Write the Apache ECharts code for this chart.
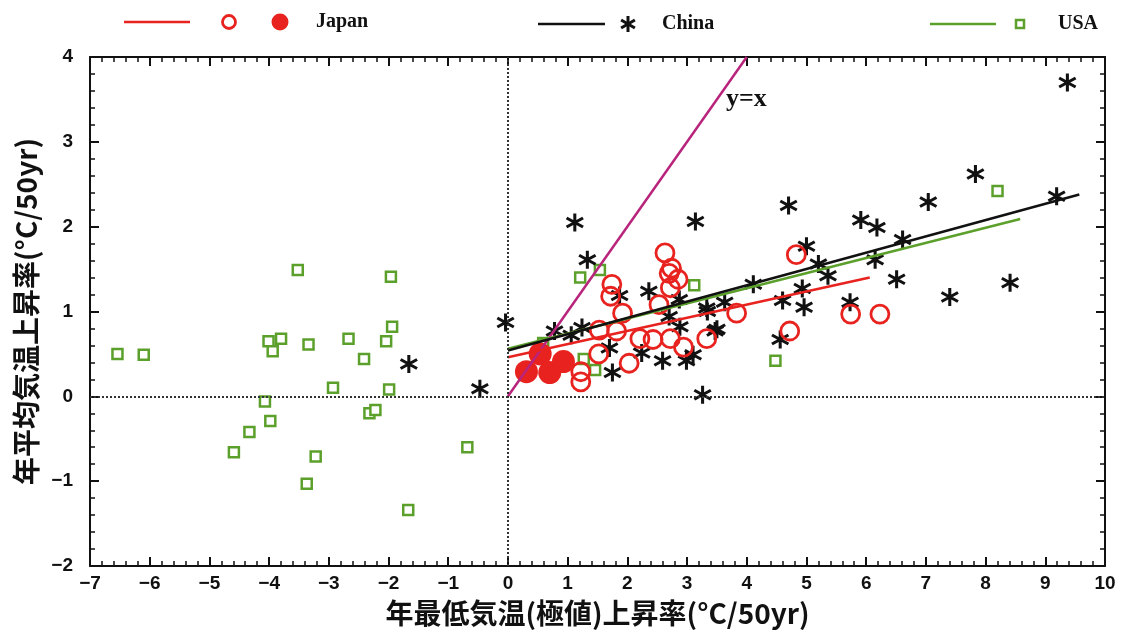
<!DOCTYPE html>
<html>
<head>
<meta charset="utf-8">
<script src="https://cdn.jsdelivr.net/npm/echarts@6/dist/echarts.min.js"></script>
<style>
  html, body { margin: 0; padding: 0; background: #fff; }
  #main { width: 1122px; height: 632px; }
</style>
</head>
<body>
<div id="main"></div>
<script>
// 数据（从图上读出来的）
var usaPoints = [
    [-6.54, 0.50], [-6.10, 0.49], [-3.52, 1.49], [-1.96, 1.41], [-1.94, 0.82],
    [-4.01, 0.65], [-3.80, 0.68], [-3.94, 0.53], [-3.34, 0.61], [-2.67, 0.68],
    [-2.04, 0.65], [-2.41, 0.44], [-2.93, 0.10], [-1.99, 0.08], [-4.07, -0.06],
    [-3.98, -0.29], [-4.33, -0.42], [-4.59, -0.66], [-3.22, -0.71], [-3.37, -1.03],
    [-1.67, -1.34], [-2.32, -0.20], [-2.22, -0.16], [-0.68, -0.60],
    [1.21, 1.40], [1.54, 1.49], [3.12, 1.31], [0.59, 0.63], [1.27, 0.44],
    [1.46, 0.31], [4.48, 0.42], [8.20, 2.42]
];
var chinaPoints = [
    [-1.66, 0.38], [-0.47, 0.09], [-0.04, 0.87], [1.12, 2.05], [3.14, 2.06],
    [1.33, 1.61], [2.36, 1.24], [1.87, 1.19], [2.87, 1.14], [0.78, 0.77],
    [1.06, 0.72], [1.24, 0.81], [2.70, 0.94], [2.88, 0.82], [1.70, 0.57],
    [2.24, 0.51], [2.59, 0.42], [3.10, 0.49], [2.99, 0.42], [1.75, 0.28],
    [3.26, 0.02], [3.33, 1.04], [3.47, 0.77], [4.11, 1.32], [4.56, 0.67],
    [9.37, 3.70], [7.83, 2.62], [9.19, 2.36], [7.04, 2.29], [4.70, 2.25],
    [5.91, 2.08], [6.18, 1.99], [6.61, 1.85], [5.00, 1.77], [6.15, 1.61],
    [5.20, 1.56], [5.36, 1.42], [6.51, 1.38], [4.93, 1.27], [8.41, 1.34],
    [7.40, 1.17], [4.60, 1.13], [4.96, 1.05], [5.73, 1.11], [3.34, 1.00],
    [3.63, 1.11], [3.50, 0.79]
];
var japanOpen = [
    [4.83, 1.67], [3.83, 0.98], [3.33, 0.68], [4.72, 0.77], [5.74, 0.97],
    [6.23, 0.97], [2.63, 1.69], [2.74, 1.51], [2.70, 1.45], [2.85, 1.38],
    [2.72, 1.28], [1.74, 1.32], [1.72, 1.18], [1.92, 0.98], [2.53, 1.08],
    [1.53, 0.78], [1.82, 0.77], [2.21, 0.68], [2.43, 0.67], [2.72, 0.68],
    [2.94, 0.58], [1.52, 0.50], [2.03, 0.39], [1.22, 0.29], [1.22, 0.17]
];
var japanFilled = [[0.31, 0.29], [0.54, 0.50], [0.70, 0.28], [0.93, 0.41]];

// 回归线的两个端点
var japanFit = [[0, 0.46], [6.06, 1.40]];
var chinaFit = [[0, 0.54], [9.57, 2.38]];
var usaFit = [[0, 0.56], [8.58, 2.09]];
var yxLine = [[0, 0], [4, 4]];

var xTicks = { min: -7, max: 10, step: 1 };
var yTicks = { min: -2, max: 4, step: 1 };

var RED = '#e8231f', GREEN = '#5ca02c', BLACK = '#111', MAGENTA = '#b8247c';

// 星号（6 个角）
var starPath = 'path://M8.4 0 L11.6 0 L11.6 20 L8.4 20 Z ' +
    'M0.54 6.39 L2.14 3.61 L19.46 13.61 L17.86 16.39 Z ' +
    'M17.86 3.61 L19.46 6.39 L2.14 16.39 L0.54 13.61 Z';

function minus(v) { return String(v).replace('-', '\u2212'); }

function makeAxis(pos, showLabel, extra) {
    var a = {
        type: 'value',
        position: pos,
        axisLine: { onZero: false, lineStyle: { color: BLACK, width: 2 } },
        axisTick: { inside: true, length: 9, lineStyle: { color: BLACK, width: 2 } },
        minorTick: { show: true, splitNumber: 5, length: 5, lineStyle: { color: BLACK, width: 1.5 } },
        splitLine: { show: false },
        axisLabel: {
            show: showLabel, color: BLACK, fontSize: 19, fontWeight: 'bold',
            fontFamily: 'Liberation Sans', formatter: minus
        }
    };
    for (var k in extra) a[k] = extra[k];
    return a;
}

var nameStyle = { fontSize: 28, fontWeight: 'bold', fontFamily: 'Noto Sans CJK JP', color: BLACK };
var legendFont = 'bold 20px "Liberation Serif"';

var option = {
    backgroundColor: '#fff',
    animation: false,
    grid: { left: 90, right: 17, top: 57, bottom: 65 },
    xAxis: [
        makeAxis('bottom', true, {
            min: xTicks.min, max: xTicks.max, interval: xTicks.step,
            name: '年最低気温(極値)上昇率(°C/50yr)', nameLocation: 'middle', nameGap: 33,
            nameTextStyle: nameStyle
        }),
        makeAxis('top', false, { min: xTicks.min, max: xTicks.max, interval: xTicks.step })
    ],
    yAxis: [
        makeAxis('left', true, {
            min: yTicks.min, max: yTicks.max, interval: yTicks.step,
            name: '年平均気温上昇率(°C/50yr)', nameLocation: 'middle', nameGap: 47,
            nameTextStyle: nameStyle,
            axisLabel: {
                color: BLACK, fontSize: 19, fontWeight: 'bold', margin: 17,
                fontFamily: 'Liberation Sans', formatter: minus
            }
        }),
        makeAxis('right', false, { min: yTicks.min, max: yTicks.max, interval: yTicks.step })
    ],
    series: [
        {
            name: 'y=x', type: 'line', data: yxLine, symbol: 'none',
            lineStyle: { color: MAGENTA, width: 2.5 },
            markLine: {
                silent: true, symbol: 'none', label: { show: false },
                lineStyle: { type: 'dotted', color: '#333', width: 2 },
                data: [{ xAxis: 0 }, { yAxis: 0 }]
            }
        },
        { name: 'USA fit', type: 'line', data: usaFit, symbol: 'none', lineStyle: { color: GREEN, width: 2.5 } },
        { name: 'China fit', type: 'line', data: chinaFit, symbol: 'none', lineStyle: { color: BLACK, width: 2.5 } },
        { name: 'Japan fit', type: 'line', data: japanFit, symbol: 'none', lineStyle: { color: RED, width: 2.5 } },
        {
            name: 'USA', type: 'scatter', data: usaPoints, symbol: 'rect', symbolSize: 10,
            itemStyle: { color: '#fff', borderColor: GREEN, borderWidth: 2.5, opacity: 1 }
        },
        {
            name: 'China', type: 'scatter', data: chinaPoints, symbol: starPath, symbolSize: 18,
            itemStyle: { color: BLACK, opacity: 1 }
        },
        {
            name: 'Japan', type: 'scatter', data: japanOpen, symbol: 'circle', symbolSize: 18,
            itemStyle: { color: 'rgba(255,255,255,0)', borderColor: RED, borderWidth: 2.8, opacity: 1 }
        },
        {
            name: 'Japan(filled)', type: 'scatter', data: japanFilled, symbol: 'circle', symbolSize: 23,
            itemStyle: { color: RED, opacity: 1 }
        }
    ],
    graphic: [
        { type: 'text', x: 726, y: 86, style: { text: 'y=x', fill: BLACK, font: 'bold 26px "Liberation Serif"' } },
        // 图例
        { type: 'line', shape: { x1: 124, y1: 22, x2: 190, y2: 22 }, style: { stroke: RED, lineWidth: 2.5 } },
        { type: 'circle', shape: { cx: 229, cy: 22, r: 6.5 }, style: { fill: '#fff', stroke: RED, lineWidth: 2.8 } },
        { type: 'circle', shape: { cx: 280, cy: 22, r: 8.5 }, style: { fill: RED } },
        { type: 'text', x: 316, y: 22, style: { text: 'Japan', fill: BLACK, font: legendFont, verticalAlign: 'middle' } },
        { type: 'line', shape: { x1: 538, y1: 24, x2: 605, y2: 24 }, style: { stroke: BLACK, lineWidth: 2.5 } },
        { type: 'line', shape: { x1: 628, y1: 16, x2: 628, y2: 32 }, style: { stroke: BLACK, lineWidth: 3 } },
        { type: 'line', shape: { x1: 621.1, y1: 20, x2: 634.9, y2: 28 }, style: { stroke: BLACK, lineWidth: 3 } },
        { type: 'line', shape: { x1: 621.1, y1: 28, x2: 634.9, y2: 20 }, style: { stroke: BLACK, lineWidth: 3 } },
        { type: 'text', x: 662, y: 24, style: { text: 'China', fill: BLACK, font: legendFont, verticalAlign: 'middle' } },
        { type: 'line', shape: { x1: 930, y1: 24, x2: 996, y2: 24 }, style: { stroke: GREEN, lineWidth: 2.5 } },
        { type: 'rect', shape: { x: 1016, y: 20, width: 8, height: 8 }, style: { fill: '#fff', stroke: GREEN, lineWidth: 2.5 } },
        { type: 'text', x: 1058, y: 24, style: { text: 'USA', fill: BLACK, font: legendFont, verticalAlign: 'middle' } }
    ]
};

// 基于准备好的dom，初始化echarts实例
var myChart = echarts.init(document.getElementById('main'), null, { renderer: 'canvas' });
myChart.setOption(option);
</script>
</body>
</html>
